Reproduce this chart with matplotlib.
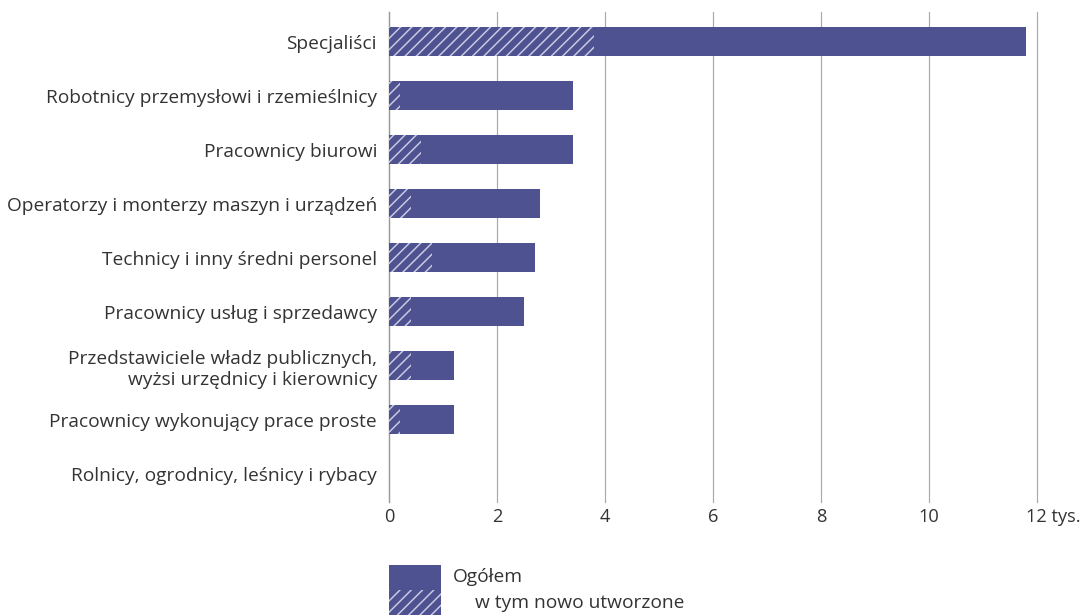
import matplotlib
matplotlib.use("Agg")
import matplotlib.pyplot as plt
from matplotlib.patches import Rectangle
import matplotlib.transforms as mtransforms

categories = [
    "Specjaliści",
    "Robotnicy przemysłowi i rzemieślnicy",
    "Pracownicy biurowi",
    "Operatorzy i monterzy maszyn i urządzeń",
    "Technicy i inny średni personel",
    "Pracownicy usług i sprzedawcy",
    "Przedstawiciele władz publicznych,\nwyżsi urzędnicy i kierownicy",
    "Pracownicy wykonujący prace proste",
    "Rolnicy, ogrodnicy, leśnicy i rybacy",
]
ogolem = [11.8, 3.4, 3.4, 2.8, 2.7, 2.5, 1.2, 1.2, 0.0]
nowe = [3.8, 0.2, 0.6, 0.4, 0.8, 0.4, 0.4, 0.2, 0.0]
xticks = [0, 2, 4, 6, 8, 10, 12]
xticklabels = ["0", "2", "4", "6", "8", "10", "12 tys."]
legend_labels = ["Ogółem", "w tym nowo utworzone"]

DPI = 135.125
W, H = 1081, 615
BAR = "#4f5291"
HATCH = "#c9cae3"
TXT = "#333333"
plt.rcParams['font.family'] = ['Open Sans', 'DejaVu Sans']
plt.rcParams['hatch.linewidth'] = 0.8
plt.rcParams['hatch.color'] = HATCH

def px(v):
    return v * 72 / DPI

fs = px(19.1)
fsx = px(18.3)

fig = plt.figure(figsize=(W / DPI, H / DPI), dpi=DPI)
ax = fig.add_axes([389 / W, 1 - 502 / H, (1037 - 389) / W, (502 - 12) / H])

y = list(range(len(categories)))
ax.barh(y, ogolem, height=0.54, color=BAR, linewidth=0, zorder=3)
ax.barh(y, nowe, height=0.54, color=BAR, edgecolor=HATCH, hatch="////", linewidth=0, zorder=4)

ax.set_xlim(0, 12)
ax.set_ylim(len(categories) - 0.5 + 0.02, -0.5 - 0.05)
ax.set_yticks(y)
ax.set_yticklabels(categories, fontsize=fs, color=TXT, multialignment="right")
ax.set_xticks(xticks)
ax.set_xticklabels(xticklabels, fontsize=fsx, color=TXT)
ax.tick_params(axis="y", length=0, pad=px(12))
ax.tick_params(axis="x", length=0, pad=px(6))
lab = ax.get_xticklabels()[-1]
lab.set_ha("left")
lab.set_transform(lab.get_transform() + mtransforms.ScaledTranslation(-11 / DPI, 0, fig.dpi_scale_trans))

for s in ["top", "right", "bottom"]:
    ax.spines[s].set_visible(False)
ax.spines["left"].set_color("#999999")
ax.spines["left"].set_linewidth(px(1.3))
ax.grid(axis="x", color="#aaaaaa", linewidth=px(1.2), zorder=0)
ax.set_axisbelow(True)
for gl in ax.get_xgridlines():
    gl.set_clip_on(False)

# legend
lax = fig.add_axes([0, 0, 1, 1], facecolor="none")
lax.set_xlim(0, W)
lax.set_ylim(H, 0)
lax.axis("off")
lax.add_patch(Rectangle((389, 565), 52, 25, facecolor=BAR, linewidth=0))
lax.add_patch(Rectangle((389, 590), 52, 25, facecolor=BAR, edgecolor=HATCH, hatch="////", linewidth=0))
lax.text(453, 577, legend_labels[0], fontsize=fs, va="center", ha="left", color=TXT)
lax.text(475, 603, legend_labels[1], fontsize=fs, va="center", ha="left", color=TXT)

fig.savefig("out.png", dpi=DPI)
